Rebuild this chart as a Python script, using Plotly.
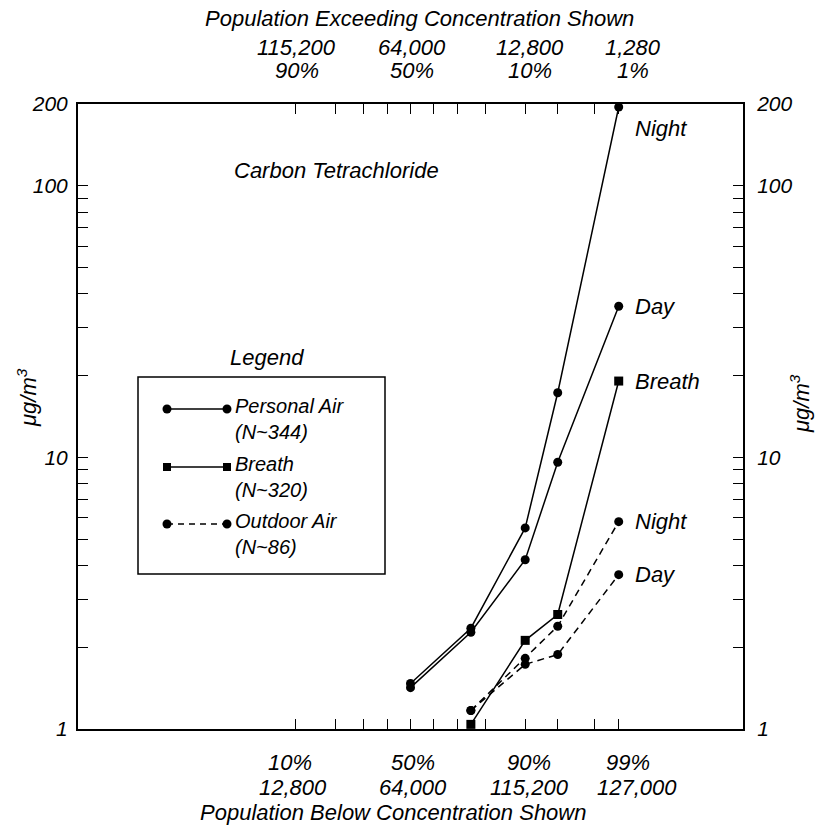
import numpy as np
import plotly.graph_objects as go
from statistics import NormalDist

# ---------------- data ----------------
pct_personal = [50, 75, 90, 95, 99]
personal_night = [1.47, 2.35, 5.5, 17.3, 195]
personal_day = [1.42, 2.27, 4.2, 9.6, 36]

pct_other = [75, 90, 95, 99]
breath = [1.04, 2.12, 2.64, 19.1]
outdoor_night = [1.17, 1.82, 2.39, 5.8]
outdoor_day = [1.17, 1.73, 1.88, 3.7]

prob_ticks = [10, 20, 30, 40, 50, 60, 70, 80, 90, 95, 98, 99]
labeled_pct = [10, 50, 90, 99]
bottom_pct_text = ["10%", "50%", "90%", "99%"]
bottom_pop_text = ["12,800", "64,000", "115,200", "127,000"]
top_pop_text = ["115,200", "64,000", "12,800", "1,280"]
top_pct_text = ["90%", "50%", "10%", "1%"]

y_major = [1, 10, 100, 200]
y_major_text = ["1", "10", "100", "200"]
y_minor = [2, 3, 4, 5, 6, 7, 8, 9, 20, 30, 40, 50, 60, 70, 80, 90]

# ---------------- helpers ----------------
nd = NormalDist()


def probit(p):
    return nd.inv_cdf(p / 100.0)


W, H = 815, 829
L, R, T, B = 78, 743, 104, 729
FONT = "Liberation Sans, Arial, Helvetica, sans-serif"
FS = 22


def px(x):
    return (x - L) / (R - L)


def py(y):
    return (B - y) / (B - T)


xt = [probit(p) for p in prob_ticks]
XR = [-3.715, 3.715]
YR = [0, np.log10(200)]

fig = go.Figure()

solid = dict(color="black", width=1.5)
dashed = dict(color="black", width=1.5, dash="7px,5px")

series = [
    (pct_personal, personal_night, solid, "circle"),
    (pct_personal, personal_day, solid, "circle"),
    (pct_other, breath, solid, "square"),
    (pct_other, outdoor_night, dashed, "circle"),
    (pct_other, outdoor_day, dashed, "circle"),
]
for pcts, vals, line, sym in series:
    fig.add_trace(go.Scatter(
        x=[probit(p) for p in pcts], y=vals, mode="lines+markers",
        line=line, marker=dict(symbol=sym, size=9, color="black"),
        cliponaxis=False, showlegend=False, hoverinfo="skip"))

# invisible trace to activate the mirrored axes
fig.add_trace(go.Scatter(x=[0], y=[10], xaxis="x2", yaxis="y2", mode="markers",
                         marker=dict(opacity=0), showlegend=False, hoverinfo="skip"))

axis_common = dict(showline=True, linecolor="black", linewidth=2, showgrid=False,
                   zeroline=False, ticks="inside", ticklen=10, tickcolor="black",
                   tickwidth=1.2, tickfont=dict(family=FONT, size=21, color="black", style="italic"))
yminor = dict(tickvals=y_minor, ticks="inside", ticklen=10, tickcolor="black",
              tickwidth=1.2, showgrid=False)

fig.update_layout(
    width=W, height=H,
    margin=dict(l=L, r=W - R, t=T, b=H - B),
    paper_bgcolor="white", plot_bgcolor="white",
    font=dict(family=FONT, size=FS, color="black", style="italic"),
    xaxis=dict(range=XR, tickvals=xt, showticklabels=False, **axis_common),
    xaxis2=dict(range=XR, overlaying="x", side="top", tickvals=xt, showticklabels=False,
                **axis_common),
    yaxis=dict(type="log", range=YR, tickvals=y_major, ticktext=y_major_text,
               ticklabelstandoff=4, minor=yminor, **axis_common),
    yaxis2=dict(type="log", range=YR, overlaying="y", side="right", tickvals=y_major,
                ticktext=y_major_text, ticklabelstandoff=8, minor=yminor, **axis_common),
)

ann = []


def text(x, y, s, xanchor="left", size=FS, **kw):
    ann.append(dict(x=x, y=y, xref="paper", yref="paper", text=s, showarrow=False,
                    xanchor=xanchor, yanchor="middle",
                    font=dict(family=FONT, size=size, color="black", style="italic"), **kw))


def xlabel(p, y, s, shift=0):
    ann.append(dict(x=probit(p), y=py(y), xref="x", yref="paper", text=s, showarrow=False,
                    xanchor="center", yanchor="middle", xshift=shift,
                    font=dict(family=FONT, size=FS, color="black", style="italic")))


# x tick labels (two lines each, on the probability scale)
bot_shift1 = [-6, 2, 4, 9]
bot_shift2 = [-3, 2, 4, 18]
top_shift = [1, 1, 5, 14]
for i, p in enumerate(labeled_pct):
    xlabel(p, 762, bottom_pct_text[i], bot_shift1[i])
    xlabel(p, 787, bottom_pop_text[i], bot_shift2[i])
    xlabel(p, 47, top_pop_text[i], top_shift[i])
    xlabel(p, 70, top_pct_text[i], top_shift[i])

# titles
text(px(419), py(18), "Population Exceeding Concentration Shown", "center")
text(px(393), py(812), "Population Below Concentration Shown", "center")
text(px(232), py(171), "Carbon Tetrachloride", "left")
text(px(27), py(398), "μg/m<sup>3</sup>", "center", textangle=-90)
text(px(800), py(404), "μg/m<sup>3</sup>", "center", textangle=-90)

# end-of-series labels
end_labels = [
    ("Night", personal_night[-1], -22),
    ("Day", personal_day[-1], 0),
    ("Breath", breath[-1], 0),
    ("Night", outdoor_night[-1], 0),
    ("Day", outdoor_day[-1], 0),
]
for s, v, ys in end_labels:
    ann.append(dict(x=probit(99), y=np.log10(v), xref="x", yref="y", text=s,
                    showarrow=False, xanchor="left", yanchor="middle", xshift=14, yshift=ys,
                    font=dict(family=FONT, size=FS, color="black", style="italic")))

# legend
shapes = []
shapes.append(dict(type="rect", xref="paper", yref="paper", x0=px(138), x1=px(385),
                   y0=py(574), y1=py(377), line=dict(color="black", width=1.5)))
text(px(267), py(357), "Legend", "center")
legend_rows = [
    (409, "Personal Air", "(N~344)", "solid", "circle"),
    (467, "Breath", "(N~320)", "solid", "square"),
    (524, "Outdoor Air", "(N~86)", "dash", "circle"),
]
for yy, l1, l2, dash, sym in legend_rows:
    shapes.append(dict(type="line", xref="paper", yref="paper", x0=px(167), x1=px(227),
                       y0=py(yy), y1=py(yy),
                       line=dict(color="black", width=1.5, dash="6px,5px" if dash == "dash" else "solid")))
    for cx in (167, 227):
        r = 4.5 if sym == "circle" else 4
        shapes.append(dict(type="circle" if sym == "circle" else "rect", xref="paper", yref="paper",
                           x0=px(cx - r), x1=px(cx + r), y0=py(yy + r), y1=py(yy - r),
                           fillcolor="black", line=dict(color="black", width=0)))
    text(px(233), py(yy + 10), l1 + "<br>" + l2, "left", size=20, align="left")

fig.update_layout(annotations=ann, shapes=shapes)
fig.write_html("out.html")
